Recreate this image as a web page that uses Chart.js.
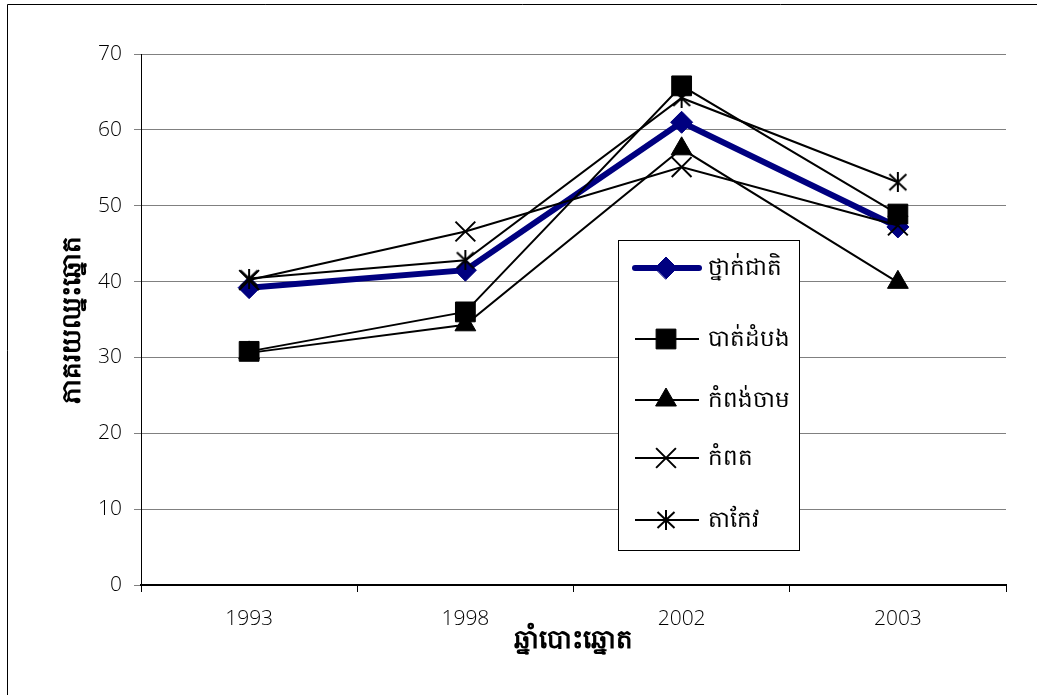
<!DOCTYPE html>
<html>
<head>
<meta charset="utf-8">
<script src="https://cdn.jsdelivr.net/npm/chart.js@4.4.1/dist/chart.umd.min.js"></script>
<style>
  html, body { margin: 0; padding: 0; background: #ffffff; }
  #wrap { width: 1037px; height: 695px; position: relative; }
</style>
</head>
<body>
<div id="wrap"><canvas id="c" width="1037" height="695"></canvas></div>
<script>
// ---- data ----
const categories = ['1993', '1998', '2002', '2003'];
const seriesNames = ['ថ្នាក់ជាតិ', 'បាត់ដំបង', 'កំពង់ចាម', 'កំពត', 'តាកែវ'];
const national    = [39.2, 41.5, 61.0, 47.2];
const battambang  = [30.8, 36.0, 65.8, 48.9];
const kampongCham = [30.6, 34.3, 57.5, 39.9];
const kampot      = [40.2, 46.6, 55.1, 47.4];
const takeo       = [40.4, 42.8, 64.2, 53.1];
const yTicks = [0, 10, 20, 30, 40, 50, 60, 70];
const xTitle = 'ឆ្នាំបោះឆ្នោត';
const yTitle = 'ភាគរយឈ្នះឆ្នោត';

// asterisk marker (vertical + two diagonals)
function makeStar(size, lw) {
  const c = document.createElement('canvas');
  c.width = size; c.height = size;
  const g = c.getContext('2d');
  g.strokeStyle = '#000'; g.lineWidth = lw;
  const h = size / 2;
  g.beginPath();
  g.moveTo(h, 0); g.lineTo(h, size);
  g.moveTo(1.5, 2); g.lineTo(size - 1.5, size - 2);
  g.moveTo(size - 1.5, 2); g.lineTo(1.5, size - 2);
  g.stroke();
  return c;
}
const starImg = makeStar(20, 2);

const KH_FONT = '"Noto Sans", "DejaVu Sans", sans-serif';
const NUM_FONT = '"Open Sans", "Liberation Sans", sans-serif';

const frame = {
  id: 'frame',
  beforeDraw(chart) {
    const ctx = chart.ctx;
    ctx.save();
    ctx.fillStyle = '#ffffff';
    ctx.fillRect(0, 0, chart.width, chart.height);
    ctx.strokeStyle = '#000';
    ctx.lineWidth = 1;
    ctx.beginPath();
    ctx.moveTo(7.5, chart.height + 2);
    ctx.lineTo(7.5, 4.5);
    ctx.lineTo(chart.width + 2, 4.5);
    ctx.stroke();
    ctx.restore();
  }
};

const boxLegend = {
  id: 'boxLegend',
  afterDatasetsDraw(chart) {
    const ctx = chart.ctx;
    const bx = 618, by = 240, bw = 181, bh = 310;
    ctx.save();
    ctx.fillStyle = '#fff';
    ctx.fillRect(bx, by, bw, bh);
    ctx.strokeStyle = '#000';
    ctx.lineWidth = 1;
    ctx.strokeRect(bx + 0.5, by + 0.5, bw, bh);
    const rows = [268, 339, 400, 458, 520];
    chart.data.datasets.forEach((ds, i) => {
      const y = rows[i];
      ctx.save();
      ctx.strokeStyle = ds.borderColor;
      ctx.lineWidth = ds.borderWidth;
      ctx.lineCap = i === 0 ? 'round' : 'butt';
      ctx.beginPath();
      ctx.moveTo(635, y);
      ctx.lineTo(699, y);
      ctx.stroke();
      ctx.fillStyle = ds.pointBackgroundColor;
      ctx.strokeStyle = ds.pointBorderColor;
      ctx.lineWidth = ds.pointBorderWidth;
      Chart.helpers.drawPoint(ctx, {
        pointStyle: ds.pointStyle,
        radius: ds.pointRadius,
        borderWidth: ds.pointBorderWidth,
        rotation: 0
      }, 666, y);
      ctx.restore();
      ctx.fillStyle = '#000';
      ctx.font = '23px ' + KH_FONT;
      ctx.textBaseline = 'middle';
      ctx.textAlign = 'left';
      ctx.fillText(seriesNames[i], 708, y);
    });
    ctx.restore();
  }
};

function ds(label, data, color, style, radius, width, order) {
  return {
    label, data,
    borderColor: color, backgroundColor: color,
    pointBackgroundColor: color, pointBorderColor: color,
    borderWidth: width, pointStyle: style, pointRadius: radius,
    pointHoverRadius: radius, pointBorderWidth: (style === 'crossRot') ? 2 : 1,
    tension: 0, fill: false, order
  };
}

const datasets = [
  ds(seriesNames[0], national, '#000080', 'rectRot', 11, 6, 5),
  ds(seriesNames[1], battambang, '#000000', 'rect', 14, 2, 4),
  ds(seriesNames[2], kampongCham, '#000000', 'triangle', 12, 2, 3),
  ds(seriesNames[3], kampot, '#000000', 'crossRot', 14, 2, 2),
  ds(seriesNames[4], takeo, '#000000', starImg, 10, 2, 1)
];

new Chart(document.getElementById('c'), {
  type: 'line',
  data: { labels: categories, datasets },
  plugins: [frame, boxLegend],
  options: {
    responsive: false,
    animation: false,
    devicePixelRatio: 1,
    layout: { padding: { top: 54, right: 31, bottom: 0, left: 0 } },
    plugins: { legend: { display: false }, tooltip: { enabled: false } },
    scales: {
      x: {
        type: 'category',
        offset: true,
        afterFit(s) { s.height = 110; },
        grid: { display: true, offset: true, drawOnChartArea: false, drawTicks: true, tickLength: 7, color: '#000', lineWidth: 1 },
        border: { display: true, color: '#000', width: 2 },
        ticks: { color: '#000', padding: 14, font: { family: NUM_FONT, size: 21, weight: 300 }, maxRotation: 0 },
        title: { display: true, text: xTitle, color: '#000', font: { family: KH_FONT, size: 26, weight: 'bold' }, padding: { top: 0, bottom: 39 } }
      },
      y: {
        min: 0, max: 70,
        afterFit(s) { s.width = 141; },
        afterBuildTicks(s) { s.ticks = yTicks.map(v => ({ value: v })); },
        grid: { color: '#808080', lineWidth: 1, drawTicks: true, tickLength: 7 },
        border: { display: true, color: '#000', width: 1 },
        ticks: { color: '#000', padding: 12, font: { family: NUM_FONT, size: 21, weight: 300 } },
        title: { display: true, text: yTitle, color: '#000', font: { family: KH_FONT, size: 26, weight: 'bold' }, padding: { top: 57, bottom: 0 } }
      }
    }
  }
});
</script>
</body>
</html>
